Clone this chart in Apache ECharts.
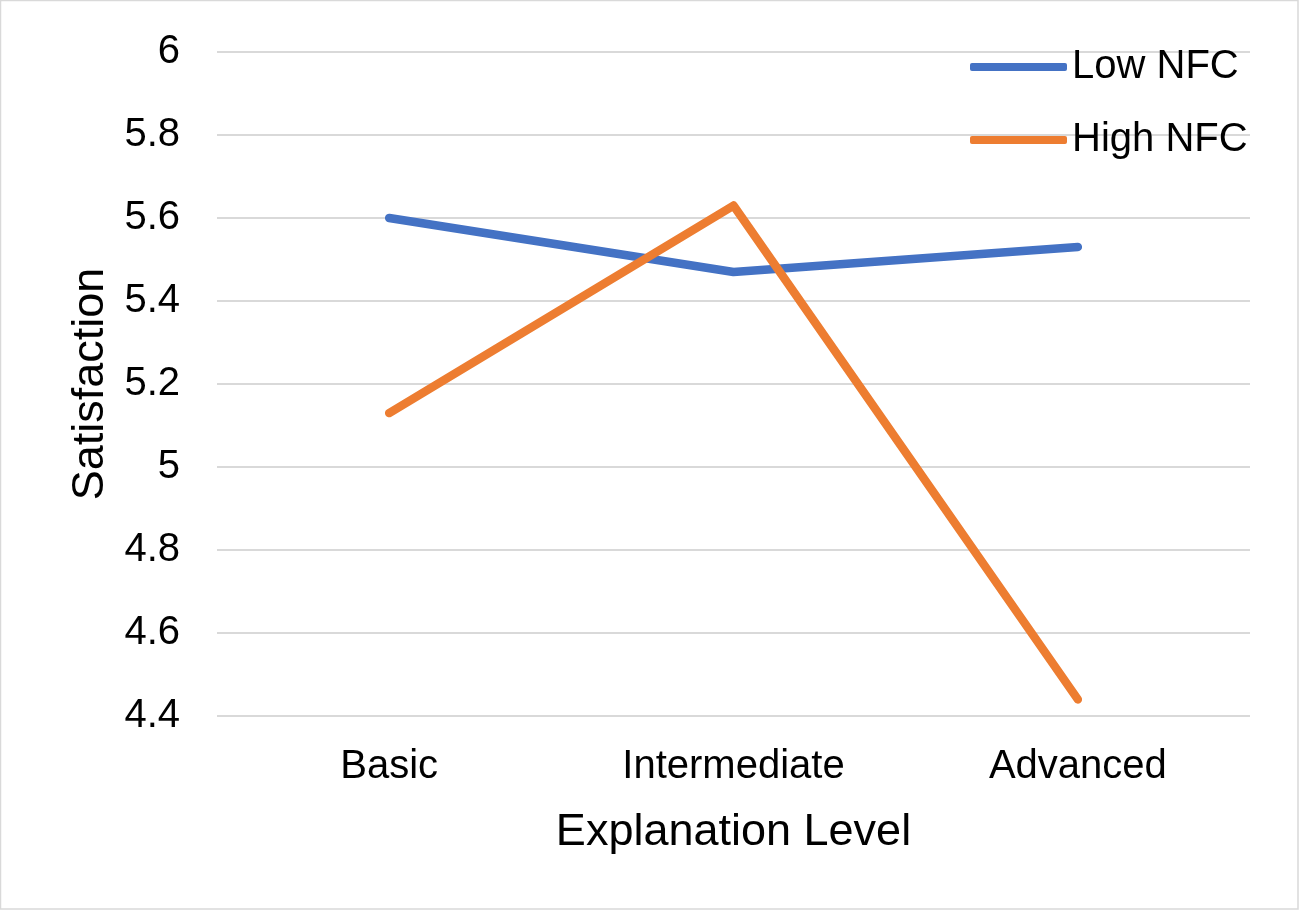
<!DOCTYPE html>
<html>
<head>
<meta charset="utf-8">
<script src="https://cdn.jsdelivr.net/npm/echarts@6/dist/echarts.min.js"></script>
<style>
html,body{margin:0;padding:0;background:#ffffff;}
#chart{width:1302px;height:912px;}
</style>
</head>
<body>
<div id="chart"></div>
<script>
const categories = ['Basic', 'Intermediate', 'Advanced'];
const lowNFC = [5.60, 5.47, 5.53];
const highNFC = [5.13, 5.63, 4.44];
const yMin = 4.4, yMax = 6, yStep = 0.2;

const FONT = '"Liberation Sans", Arial, Helvetica, sans-serif';
const chart = echarts.init(document.getElementById('chart'), null, {renderer: 'canvas'});
chart.setOption({
  animation: false,
  backgroundColor: '#ffffff',
  textStyle: {fontFamily: FONT},
  graphic: [{
    type: 'rect', silent: true, z: 100,
    shape: {x: 0.5, y: 0.5, width: 1297.5, height: 908.5},
    style: {fill: 'none', stroke: '#d9d9d9', lineWidth: 1.5}
  }],
  grid: {left: 217, right: 52, top: 52, bottom: 196, containLabel: false},
  legend: {
    orient: 'vertical',
    left: 965, top: 42,
    itemWidth: 97, itemHeight: 8, itemGap: 33,
    icon: 'roundRect',
    textStyle: {fontSize: 40, lineHeight: 40, color: '#000000', fontFamily: FONT, padding: [0,0,0,0]},
    data: ['Low NFC', 'High NFC']
  },
  xAxis: {
    type: 'category',
    data: categories,
    boundaryGap: true,
    axisLine: {show: false},
    axisTick: {show: false},
    axisLabel: {fontSize: 40, color: '#000000', margin: 31, fontFamily: FONT},
    name: 'Explanation Level',
    nameLocation: 'middle',
    nameGap: 94,
    nameTextStyle: {fontSize: 45, color: '#000000', fontFamily: FONT}
  },
  yAxis: {
    type: 'value',
    min: yMin, max: yMax, interval: yStep,
    axisLine: {show: false},
    axisTick: {show: false},
    splitLine: {lineStyle: {color: '#d9d9d9', width: 2}},
    axisLabel: {fontSize: 40, color: '#000000', margin: 37, fontFamily: FONT,
      formatter: v => String(+v.toFixed(1))},
    name: 'Satisfaction',
    nameLocation: 'middle',
    nameGap: 104,
    nameRotate: 90,
    nameTextStyle: {fontSize: 45, color: '#000000', fontFamily: FONT}
  },
  series: [
    {name: 'Low NFC', type: 'line', data: lowNFC, symbol: 'none', smooth: false,
     itemStyle: {color: '#4472C4'},
     lineStyle: {color: '#4472C4', width: 8.5, cap: 'round', join: 'round'}},
    {name: 'High NFC', type: 'line', data: highNFC, symbol: 'none', smooth: false,
     itemStyle: {color: '#ED7D31'},
     lineStyle: {color: '#ED7D31', width: 8.5, cap: 'round', join: 'round'}}
  ]
});
</script>
</body>
</html>
